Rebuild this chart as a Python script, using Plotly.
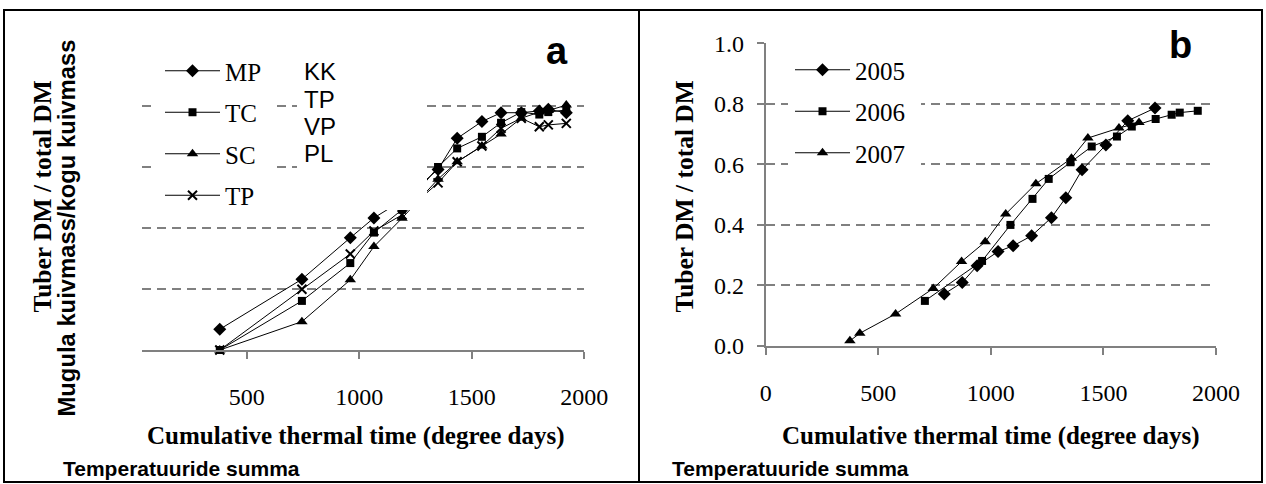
import plotly.graph_objects as go

W, H = 1266, 484

# ---------------- Panel a data ----------------
thermal_a = [380, 745, 960, 1065, 1190, 1350, 1435, 1545, 1630, 1720, 1800, 1840, 1920]
mp_vals = [0.068, 0.232, 0.368, 0.433, 0.49, 0.592, 0.694, 0.749, 0.778, 0.778, 0.784, 0.789, 0.778]
tc_vals = [0.0, 0.161, 0.285, 0.385, 0.46, 0.600, 0.661, 0.699, 0.745, 0.780, 0.772, 0.780, 0.787]
sc_vals = [0.0, 0.093, 0.230, 0.339, 0.432, 0.560, 0.617, 0.669, 0.708, 0.760, 0.780, 0.785, 0.803]
tp_vals = [0.0, 0.199, 0.315, 0.390, 0.443, 0.548, 0.617, 0.669, 0.727, 0.760, 0.732, 0.738, 0.743]
names_a = ["MP", "TC", "SC", "TP"]
extra_labels = ["KK", "TP", "VP", "PL"]

# ---------------- Panel b data ----------------
x_2005 = [793, 873, 939, 1032, 1099, 1181, 1269, 1333, 1405, 1511, 1608, 1729]
y_2005 = [0.172, 0.210, 0.265, 0.312, 0.331, 0.364, 0.424, 0.490, 0.582, 0.664, 0.744, 0.786]
x_2006 = [707, 961, 1087, 1185, 1257, 1354, 1448, 1560, 1626, 1732, 1803, 1839, 1919]
y_2006 = [0.149, 0.281, 0.400, 0.486, 0.552, 0.607, 0.659, 0.692, 0.725, 0.750, 0.764, 0.771, 0.777]
x_2007 = [374, 418, 577, 744, 870, 975, 1066, 1200, 1358, 1431, 1569, 1658]
y_2007 = [0.017, 0.042, 0.106, 0.190, 0.279, 0.344, 0.436, 0.536, 0.620, 0.687, 0.720, 0.738]

x_ticks = [0, 500, 1000, 1500, 2000]
y_ticks = [0.0, 0.2, 0.4, 0.6, 0.8, 1.0]
grid_vals = [0.2, 0.4, 0.6, 0.8]


def px(x):
    return x / W


def py(y):
    return 1 - y / H


SERIF = "Liberation Serif"
SANS = "Liberation Sans"
GRAY = "#808080"

fig = go.Figure()

sym = {"MP": ("diamond", 10), "TC": ("square", 8), "SC": ("triangle-up", 10), "TP": ("x-thin", 9)}
for name, vals in zip(names_a, [mp_vals, tc_vals, sc_vals, tp_vals]):
    s, sz = sym[name]
    fig.add_trace(go.Scatter(
        x=thermal_a, y=vals, mode="lines+markers", name=name,
        line=dict(color="black", width=1),
        marker=dict(symbol=s, size=sz, color="black", line=dict(color="black", width=2 if s == "x-thin" else 0)),
        xaxis="x", yaxis="y", legend="legend", legendgroup="a" + name, cliponaxis=False,
    ))

for name, xs, ys, s, sz in [("2005", x_2005, y_2005, "diamond", 10),
                            ("2006", x_2006, y_2006, "square", 8),
                            ("2007", x_2007, y_2007, "triangle-up", 10)]:
    fig.add_trace(go.Scatter(
        x=xs, y=ys, mode="lines+markers", name=name,
        line=dict(color="black", width=1),
        marker=dict(symbol=s, size=sz, color="black"),
        xaxis="x2", yaxis="y2", legend="legend2", legendgroup="b" + name, cliponaxis=False,
    ))

tickfont = dict(family=SERIF, size=24, color="black")

fig.update_layout(
    template="none",
    width=W, height=H,
    margin=dict(l=0, r=0, t=0, b=0, pad=0, autoexpand=False),
    paper_bgcolor="white", plot_bgcolor="white",
    showlegend=True,
    xaxis=dict(domain=[px(141.7), px(584.3)], range=[33, 2000], anchor="y", automargin=False,
               showline=True, linecolor=GRAY, linewidth=2,
               ticks="outside", ticklen=7, tickwidth=1.5, tickcolor=GRAY,
               tickvals=x_ticks[1:], ticktext=[str(v) for v in x_ticks[1:]],
               tickfont=tickfont, showgrid=False, zeroline=False, ticklabelstandoff=17),
    yaxis=dict(domain=[py(350), py(45)], range=[0, 1], anchor="x", automargin=False,
               showline=False, showticklabels=False, ticks="",
               tickvals=grid_vals, showgrid=True, gridcolor=GRAY, gridwidth=2,
               griddash="9px,6px", zeroline=False),
    xaxis2=dict(domain=[px(765.7), px(1216)], range=[0, 2000], anchor="y2", automargin=False,
                showline=True, linecolor=GRAY, linewidth=2,
                ticks="outside", ticklen=7, tickwidth=1.5, tickcolor=GRAY,
                tickvals=x_ticks, ticktext=[str(v) for v in x_ticks],
                tickfont=tickfont, showgrid=False, zeroline=False, ticklabelstandoff=17),
    yaxis2=dict(domain=[py(346), py(43.3)], range=[0, 1], anchor="x2", automargin=False,
                showline=True, linecolor=GRAY, linewidth=2,
                ticks="outside", ticklen=7, tickwidth=1.5, tickcolor=GRAY,
                tickvals=y_ticks, ticktext=[f"{v:.1f}" for v in y_ticks],
                tickfont=tickfont, showgrid=False, zeroline=False, ticklabelstandoff=8,
                minor=dict(tickvals=grid_vals, showgrid=True, gridcolor=GRAY, gridwidth=2,
                           griddash="9px,6px", ticks="")),
    legend=dict(x=px(160), y=py(48), xanchor="left", yanchor="top",
                bgcolor="rgba(0,0,0,0)", borderwidth=0,
                font=dict(family=SERIF, size=25, color="black"),
                traceorder="grouped", tracegroupgap=6, itemwidth=55),
    legend2=dict(x=px(790), y=py(47), xanchor="left", yanchor="top",
                 bgcolor="rgba(0,0,0,0)", borderwidth=0,
                 font=dict(family=SERIF, size=25, color="black"),
                 traceorder="grouped", tracegroupgap=6, itemwidth=55),
)

shapes = []
# white boxes hiding grid/lines behind legend and text boxes
for (x0, y0, x1, y1) in [(157, 50, 276, 215), (297, 55, 427, 210), (788, 48, 921, 172)]:
    shapes.append(dict(type="rect", xref="paper", yref="paper",
                       x0=px(x0), x1=px(x1), y0=py(y1), y1=py(y0),
                       fillcolor="white", line=dict(width=0), layer="above"))
# panel borders
for (x0, x1) in [(4, 639), (639, 1262)]:
    shapes.append(dict(type="rect", xref="paper", yref="paper",
                       x0=px(x0), x1=px(x1), y0=py(482), y1=py(10),
                       fillcolor="rgba(0,0,0,0)", line=dict(color="black", width=2), layer="above"))
fig.update_layout(shapes=shapes)

ann = []
# KK TP VP PL column
for lbl, yc in zip(extra_labels, [71.7, 99, 126.5, 154]):
    ann.append(dict(text=lbl, x=px(302), y=py(yc), xref="paper", yref="paper",
                    xanchor="left", yanchor="middle", showarrow=False,
                    font=dict(family=SANS, size=24, color="black")))
# panel letters
ann.append(dict(text="<b>a</b>", x=px(557), y=py(51), xref="paper", yref="paper",
                xanchor="center", yanchor="middle", showarrow=False,
                font=dict(family=SANS, size=38, color="black")))
ann.append(dict(text="<b>b</b>", x=px(1180), y=py(45), xref="paper", yref="paper",
                xanchor="center", yanchor="middle", showarrow=False,
                font=dict(family=SANS, size=38, color="black")))
# y titles
ann.append(dict(text="<b>Tuber DM / total DM</b>", x=px(42), y=py(196.5), xref="paper", yref="paper",
                xanchor="center", yanchor="middle", textangle=-90, showarrow=False,
                font=dict(family=SERIF, size=25.5, color="black")))
ann.append(dict(text="<b>Mugula kuivmass/kogu kuivmass</b>", x=px(66), y=py(228.5), xref="paper", yref="paper",
                xanchor="center", yanchor="middle", textangle=-90, showarrow=False,
                font=dict(family=SANS, size=23.8, color="black")))
ann.append(dict(text="<b>Tuber DM / total DM</b>", x=px(684), y=py(196.5), xref="paper", yref="paper",
                xanchor="center", yanchor="middle", textangle=-90, showarrow=False,
                font=dict(family=SERIF, size=25.5, color="black")))
# x titles
for xc in [356, 991]:
    ann.append(dict(text="<b>Cumulative thermal time (degree days)</b>", x=px(xc), y=py(436),
                    xref="paper", yref="paper", xanchor="center", yanchor="middle", showarrow=False,
                    font=dict(family=SERIF, size=25, color="black")))
for xl in [61, 670]:
    ann.append(dict(text="<b>Temperatuuride summa</b>", x=px(xl), y=py(468),
                    xref="paper", yref="paper", xanchor="left", yanchor="middle", showarrow=False,
                    font=dict(family=SANS, size=21, color="black")))
fig.update_layout(annotations=ann)

fig.write_html(
    "out.html",
    config={"displayModeBar": False},
    post_script="document.documentElement.style.margin='0';document.body.style.margin='0';"
                "document.body.style.overflow='hidden';",
)
